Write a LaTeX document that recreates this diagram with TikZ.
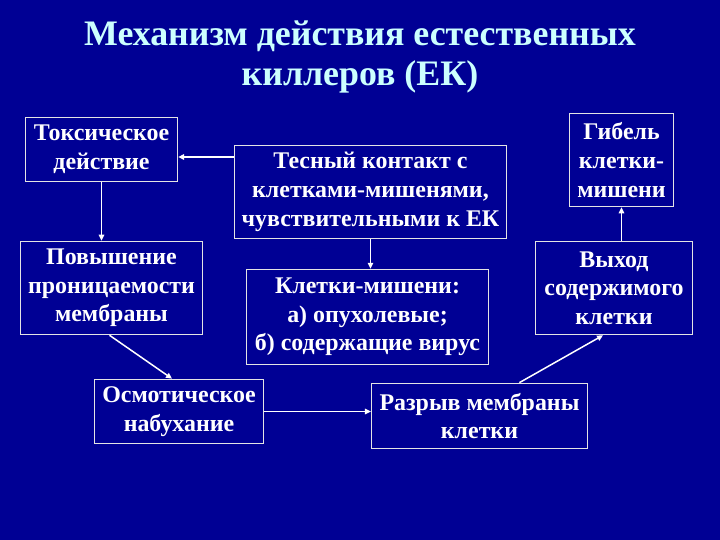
\documentclass[tikz,border=0pt]{standalone}
\usepackage{fontspec}
\setmainfont{Liberation Serif}
\usepackage{xcolor}
\usepackage{tikz}
\usetikzlibrary{arrows.meta,calc}
\definecolor{slidenavy}{HTML}{000094}
\definecolor{titlecyan}{HTML}{CCFFFF}
\definecolor{rimgrey}{HTML}{E4E4E4}

\begin{document}
\begin{tikzpicture}[
  x=1bp, y=-1bp,
  font=\fontsize{24}{28.8}\selectfont\bfseries,
  box/.style={draw=rimgrey, line width=0.9pt, text=white, align=center,
              inner sep=0pt},
  ttl/.style={text=titlecyan, align=center,
              font=\fontsize{36}{41}\selectfont\bfseries},
  flow/.style={-{Triangle[length=6pt, width=5.5pt]}, white, line width=1.5pt},
]
\fill[slidenavy] (0,0) rectangle (720,540);
\useasboundingbox (0,0) rectangle (720,540);

\node[ttl] (title) at (360,57) {Механизм действия естественных\\ киллеров (ЕК)};

\node[box, minimum width=153, minimum height=65] (toxic) at (101.5,149.5)
  {Токсическое\\ действие};
\node[box, minimum width=273, minimum height=94] (contact) at (370.5,192)
  {Тесный контакт с\\ клетками-мишенями,\\ чувствительными к ЕК};
\node[box, minimum width=105, minimum height=94] (death) at (621.5,160)
  {Гибель\\ клетки-\\ мишени};
\node[box, minimum width=183, minimum height=94] (perm) at (111.5,288)
  {Повышение\\ проницаемости\\ мембраны};
\node[box, minimum width=243, minimum height=96] (targets) at (367.5,317)
  {Клетки-мишени:\\ а) опухолевые;\\ б) содержащие вирус};
\node[box, minimum width=158, minimum height=94] (release) at (614,288)
  {Выход\\ содержимого\\ клетки};
\node[box, minimum width=170, minimum height=65] (swell) at (179,411.5)
  {Осмотическое\\ набухание};
\node[box, minimum width=217, minimum height=66] (rupture) at (479.5,416)
  {Разрыв мембраны\\ клетки};

\draw[flow] (contact.west |- 0,157) -- (toxic.east |- 0,157);
\draw[flow] (toxic.south) -- (toxic.south |- perm.north);
\draw[flow] (contact.south) -- (contact.south |- targets.north);
\draw[flow] ([xshift=-2pt]perm.south) -- ([xshift=-7pt]swell.north);
\draw[flow] (swell.east) -- (swell.east -| rupture.west);
\draw[flow] ([xshift=40pt]rupture.north) -- ([xshift=-11pt]release.south);
\draw[flow] (death.south |- release.north) -- (death.south);
\end{tikzpicture}
\end{document}
